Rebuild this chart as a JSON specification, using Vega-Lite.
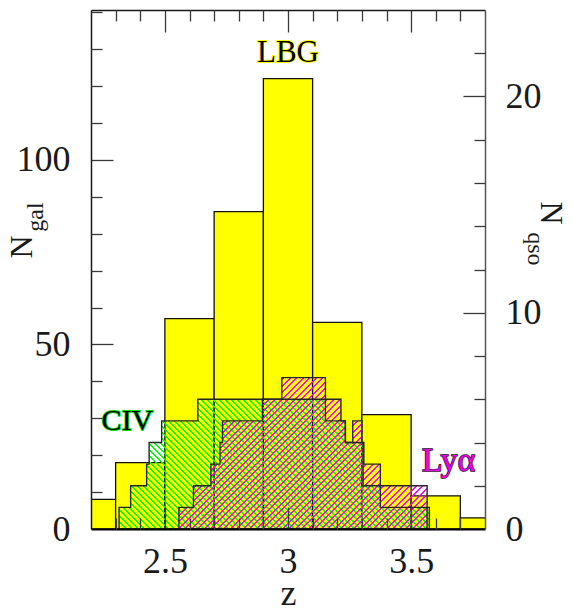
{
  "$schema": "https://vega.github.io/schema/vega-lite/v6.json",
  "width": 394,
  "height": 519,
  "autosize": {"type": "none"},
  "padding": {"left": 91, "top": 10, "right": 87, "bottom": 81},
  "background": "white",
  "config": {
    "view": {"stroke": null},
    "axis": {"grid": false, "labelFont": "Liberation Serif", "titleFont": "Liberation Serif"},
    "text": {"font": "Liberation Serif"}
  },
  "datasets": {
    "lbg": [
      {"z0": 2.1, "z1": 2.3, "n": 8},
      {"z0": 2.3, "z1": 2.5, "n": 18},
      {"z0": 2.5, "z1": 2.7, "n": 57},
      {"z0": 2.7, "z1": 2.9, "n": 86},
      {"z0": 2.9, "z1": 3.1, "n": 122},
      {"z0": 3.1, "z1": 3.3, "n": 56},
      {"z0": 3.3, "z1": 3.5, "n": 31},
      {"z0": 3.5, "z1": 3.7, "n": 9},
      {"z0": 3.7, "z1": 3.9, "n": 3}
    ],
    "civ": [
      {"z": 2.314, "n": 1}, {"z": 2.361, "n": 2}, {"z": 2.426, "n": 3}, {"z": 2.436, "n": 4},
      {"z": 2.487, "n": 5}, {"z": 2.634, "n": 6}, {"z": 3.152, "n": 5}, {"z": 3.233, "n": 4},
      {"z": 3.305, "n": 2}, {"z": 3.375, "n": 1}, {"z": 3.574, "n": 0}
    ],
    "lya": [
      {"z": 2.557, "n": 1}, {"z": 2.616, "n": 2}, {"z": 2.687, "n": 3}, {"z": 2.724, "n": 4},
      {"z": 2.734, "n": 5}, {"z": 2.896, "n": 6}, {"z": 2.975, "n": 7}, {"z": 3.152, "n": 6},
      {"z": 3.215, "n": 5}, {"z": 3.233, "n": 4}, {"z": 3.263, "n": 5}, {"z": 3.3, "n": 4},
      {"z": 3.308, "n": 3}, {"z": 3.375, "n": 2}, {"z": 3.565, "n": 0}
    ],
    "gal_text": [
      {"label": "LBG", "z": 3.0, "n": 129},
      {"label": "N", "z": 1.92, "n": 76.4},
      {"label": "gal", "z": 1.977, "n": 84.5}
    ],
    "qso_text": [
      {"label": "CIV", "z": 2.348, "n": 5.0},
      {"label": "Lyα", "z": 3.652, "n": 3.14},
      {"label": "N", "z": 4.07, "n": 14.61},
      {"label": "qso", "z": 4.003, "n": 12.95}
    ]
  },
  "resolve": {
    "scale": {"x": "independent", "y": "independent"},
    "axis": {"x": "independent", "y": "independent"}
  },
  "layer": [
    {
      "data": {"name": "lbg"},
      "mark": {"type": "rect", "fill": "#ffff00", "stroke": "#111111", "strokeWidth": 1.3, "clip": true},
      "encoding": {
        "x": {"field": "z0", "type": "quantitative", "scale": {"domain": [2.2, 3.8], "nice": false, "zero": false},
          "axis": {"orient": "bottom", "values": [2.5, 3, 3.5], "format": "~g", "ticks": false, "domain": false,
            "labelFontSize": 36, "labelColor": "#1a1a1a", "labelPadding": 15, "labelFlush": false, "labelOverlap": false,
            "title": "z", "titleFontSize": 36, "titleFontWeight": "normal", "titleColor": "#1a1a1a", "titleY": 75, "titleBaseline": "alphabetic"}},
        "x2": {"field": "z1"},
        "y": {"field": "n", "type": "quantitative", "scale": {"domain": [0, 140.6], "nice": false, "zero": false},
          "axis": {"orient": "left", "values": [0, 50, 100], "format": "d", "ticks": false, "domain": false,
            "labelFontSize": 36, "labelColor": "#1a1a1a", "labelPadding": 21, "labelOverlap": false, "title": null}},
        "y2": {"datum": 0}
      }
    },
    {
      "data": {"name": "civ"},
      "mark": {"type": "area", "interpolate": "step-after", "clip": true,
        "fill": {"gradient": "linear", "x1": 0, "y1": 1, "x2": 1.3168, "y2": 0.4493, "stops": [
{"offset":0,"color":"lime"},{"offset":0.0045,"color":"lime"},{"offset":0.0045,"color":"transparent"},{"offset":0.0125,"color":"transparent"},
{"offset":0.0125,"color":"lime"},{"offset":0.017,"color":"lime"},{"offset":0.017,"color":"transparent"},{"offset":0.025,"color":"transparent"},
{"offset":0.025,"color":"lime"},{"offset":0.0295,"color":"lime"},{"offset":0.0295,"color":"transparent"},{"offset":0.0375,"color":"transparent"},
{"offset":0.0375,"color":"lime"},{"offset":0.042,"color":"lime"},{"offset":0.042,"color":"transparent"},{"offset":0.05,"color":"transparent"},
{"offset":0.05,"color":"lime"},{"offset":0.0545,"color":"lime"},{"offset":0.0545,"color":"transparent"},{"offset":0.0625,"color":"transparent"},
{"offset":0.0625,"color":"lime"},{"offset":0.067,"color":"lime"},{"offset":0.067,"color":"transparent"},{"offset":0.075,"color":"transparent"},
{"offset":0.075,"color":"lime"},{"offset":0.0795,"color":"lime"},{"offset":0.0795,"color":"transparent"},{"offset":0.0875,"color":"transparent"},
{"offset":0.0875,"color":"lime"},{"offset":0.092,"color":"lime"},{"offset":0.092,"color":"transparent"},{"offset":0.1,"color":"transparent"},
{"offset":0.1,"color":"lime"},{"offset":0.1045,"color":"lime"},{"offset":0.1045,"color":"transparent"},{"offset":0.1125,"color":"transparent"},
{"offset":0.1125,"color":"lime"},{"offset":0.117,"color":"lime"},{"offset":0.117,"color":"transparent"},{"offset":0.125,"color":"transparent"},
{"offset":0.125,"color":"lime"},{"offset":0.1295,"color":"lime"},{"offset":0.1295,"color":"transparent"},{"offset":0.1375,"color":"transparent"},
{"offset":0.1375,"color":"lime"},{"offset":0.142,"color":"lime"},{"offset":0.142,"color":"transparent"},{"offset":0.15,"color":"transparent"},
{"offset":0.15,"color":"lime"},{"offset":0.1545,"color":"lime"},{"offset":0.1545,"color":"transparent"},{"offset":0.1625,"color":"transparent"},
{"offset":0.1625,"color":"lime"},{"offset":0.167,"color":"lime"},{"offset":0.167,"color":"transparent"},{"offset":0.175,"color":"transparent"},
{"offset":0.175,"color":"lime"},{"offset":0.1795,"color":"lime"},{"offset":0.1795,"color":"transparent"},{"offset":0.1875,"color":"transparent"},
{"offset":0.1875,"color":"lime"},{"offset":0.192,"color":"lime"},{"offset":0.192,"color":"transparent"},{"offset":0.2,"color":"transparent"},
{"offset":0.2,"color":"lime"},{"offset":0.2045,"color":"lime"},{"offset":0.2045,"color":"transparent"},{"offset":0.2125,"color":"transparent"},
{"offset":0.2125,"color":"lime"},{"offset":0.217,"color":"lime"},{"offset":0.217,"color":"transparent"},{"offset":0.225,"color":"transparent"},
{"offset":0.225,"color":"lime"},{"offset":0.2295,"color":"lime"},{"offset":0.2295,"color":"transparent"},{"offset":0.2375,"color":"transparent"},
{"offset":0.2375,"color":"lime"},{"offset":0.242,"color":"lime"},{"offset":0.242,"color":"transparent"},{"offset":0.25,"color":"transparent"},
{"offset":0.25,"color":"lime"},{"offset":0.2545,"color":"lime"},{"offset":0.2545,"color":"transparent"},{"offset":0.2625,"color":"transparent"},
{"offset":0.2625,"color":"lime"},{"offset":0.267,"color":"lime"},{"offset":0.267,"color":"transparent"},{"offset":0.275,"color":"transparent"},
{"offset":0.275,"color":"lime"},{"offset":0.2795,"color":"lime"},{"offset":0.2795,"color":"transparent"},{"offset":0.2875,"color":"transparent"},
{"offset":0.2875,"color":"lime"},{"offset":0.292,"color":"lime"},{"offset":0.292,"color":"transparent"},{"offset":0.3,"color":"transparent"},
{"offset":0.3,"color":"lime"},{"offset":0.3045,"color":"lime"},{"offset":0.3045,"color":"transparent"},{"offset":0.3125,"color":"transparent"},
{"offset":0.3125,"color":"lime"},{"offset":0.317,"color":"lime"},{"offset":0.317,"color":"transparent"},{"offset":0.325,"color":"transparent"},
{"offset":0.325,"color":"lime"},{"offset":0.3295,"color":"lime"},{"offset":0.3295,"color":"transparent"},{"offset":0.3375,"color":"transparent"},
{"offset":0.3375,"color":"lime"},{"offset":0.342,"color":"lime"},{"offset":0.342,"color":"transparent"},{"offset":0.35,"color":"transparent"},
{"offset":0.35,"color":"lime"},{"offset":0.3545,"color":"lime"},{"offset":0.3545,"color":"transparent"},{"offset":0.3625,"color":"transparent"},
{"offset":0.3625,"color":"lime"},{"offset":0.367,"color":"lime"},{"offset":0.367,"color":"transparent"},{"offset":0.375,"color":"transparent"},
{"offset":0.375,"color":"lime"},{"offset":0.3795,"color":"lime"},{"offset":0.3795,"color":"transparent"},{"offset":0.3875,"color":"transparent"},
{"offset":0.3875,"color":"lime"},{"offset":0.392,"color":"lime"},{"offset":0.392,"color":"transparent"},{"offset":0.4,"color":"transparent"},
{"offset":0.4,"color":"lime"},{"offset":0.4045,"color":"lime"},{"offset":0.4045,"color":"transparent"},{"offset":0.4125,"color":"transparent"},
{"offset":0.4125,"color":"lime"},{"offset":0.417,"color":"lime"},{"offset":0.417,"color":"transparent"},{"offset":0.425,"color":"transparent"},
{"offset":0.425,"color":"lime"},{"offset":0.4295,"color":"lime"},{"offset":0.4295,"color":"transparent"},{"offset":0.4375,"color":"transparent"},
{"offset":0.4375,"color":"lime"},{"offset":0.442,"color":"lime"},{"offset":0.442,"color":"transparent"},{"offset":0.45,"color":"transparent"},
{"offset":0.45,"color":"lime"},{"offset":0.4545,"color":"lime"},{"offset":0.4545,"color":"transparent"},{"offset":0.4625,"color":"transparent"},
{"offset":0.4625,"color":"lime"},{"offset":0.467,"color":"lime"},{"offset":0.467,"color":"transparent"},{"offset":0.475,"color":"transparent"},
{"offset":0.475,"color":"lime"},{"offset":0.4795,"color":"lime"},{"offset":0.4795,"color":"transparent"},{"offset":0.4875,"color":"transparent"},
{"offset":0.4875,"color":"lime"},{"offset":0.492,"color":"lime"},{"offset":0.492,"color":"transparent"},{"offset":0.5,"color":"transparent"},
{"offset":0.5,"color":"lime"},{"offset":0.5045,"color":"lime"},{"offset":0.5045,"color":"transparent"},{"offset":0.5125,"color":"transparent"},
{"offset":0.5125,"color":"lime"},{"offset":0.517,"color":"lime"},{"offset":0.517,"color":"transparent"},{"offset":0.525,"color":"transparent"},
{"offset":0.525,"color":"lime"},{"offset":0.5295,"color":"lime"},{"offset":0.5295,"color":"transparent"},{"offset":0.5375,"color":"transparent"},
{"offset":0.5375,"color":"lime"},{"offset":0.542,"color":"lime"},{"offset":0.542,"color":"transparent"},{"offset":0.55,"color":"transparent"},
{"offset":0.55,"color":"lime"},{"offset":0.5545,"color":"lime"},{"offset":0.5545,"color":"transparent"},{"offset":0.5625,"color":"transparent"},
{"offset":0.5625,"color":"lime"},{"offset":0.567,"color":"lime"},{"offset":0.567,"color":"transparent"},{"offset":0.575,"color":"transparent"},
{"offset":0.575,"color":"lime"},{"offset":0.5795,"color":"lime"},{"offset":0.5795,"color":"transparent"},{"offset":0.5875,"color":"transparent"},
{"offset":0.5875,"color":"lime"},{"offset":0.592,"color":"lime"},{"offset":0.592,"color":"transparent"},{"offset":0.6,"color":"transparent"},
{"offset":0.6,"color":"lime"},{"offset":0.6045,"color":"lime"},{"offset":0.6045,"color":"transparent"},{"offset":0.6125,"color":"transparent"},
{"offset":0.6125,"color":"lime"},{"offset":0.617,"color":"lime"},{"offset":0.617,"color":"transparent"},{"offset":0.625,"color":"transparent"},
{"offset":0.625,"color":"lime"},{"offset":0.6295,"color":"lime"},{"offset":0.6295,"color":"transparent"},{"offset":0.6375,"color":"transparent"},
{"offset":0.6375,"color":"lime"},{"offset":0.642,"color":"lime"},{"offset":0.642,"color":"transparent"},{"offset":0.65,"color":"transparent"},
{"offset":0.65,"color":"lime"},{"offset":0.6545,"color":"lime"},{"offset":0.6545,"color":"transparent"},{"offset":0.6625,"color":"transparent"},
{"offset":0.6625,"color":"lime"},{"offset":0.667,"color":"lime"},{"offset":0.667,"color":"transparent"},{"offset":0.675,"color":"transparent"},
{"offset":0.675,"color":"lime"},{"offset":0.6795,"color":"lime"},{"offset":0.6795,"color":"transparent"},{"offset":0.6875,"color":"transparent"},
{"offset":0.6875,"color":"lime"},{"offset":0.692,"color":"lime"},{"offset":0.692,"color":"transparent"},{"offset":0.7,"color":"transparent"},
{"offset":0.7,"color":"lime"},{"offset":0.7045,"color":"lime"},{"offset":0.7045,"color":"transparent"},{"offset":0.7125,"color":"transparent"},
{"offset":0.7125,"color":"lime"},{"offset":0.717,"color":"lime"},{"offset":0.717,"color":"transparent"},{"offset":0.725,"color":"transparent"},
{"offset":0.725,"color":"lime"},{"offset":0.7295,"color":"lime"},{"offset":0.7295,"color":"transparent"},{"offset":0.7375,"color":"transparent"},
{"offset":0.7375,"color":"lime"},{"offset":0.742,"color":"lime"},{"offset":0.742,"color":"transparent"},{"offset":0.75,"color":"transparent"},
{"offset":0.75,"color":"lime"},{"offset":0.7545,"color":"lime"},{"offset":0.7545,"color":"transparent"},{"offset":0.7625,"color":"transparent"},
{"offset":0.7625,"color":"lime"},{"offset":0.767,"color":"lime"},{"offset":0.767,"color":"transparent"},{"offset":0.775,"color":"transparent"},
{"offset":0.775,"color":"lime"},{"offset":0.7795,"color":"lime"},{"offset":0.7795,"color":"transparent"},{"offset":0.7875,"color":"transparent"},
{"offset":0.7875,"color":"lime"},{"offset":0.792,"color":"lime"},{"offset":0.792,"color":"transparent"},{"offset":0.8,"color":"transparent"},
{"offset":0.8,"color":"lime"},{"offset":0.8045,"color":"lime"},{"offset":0.8045,"color":"transparent"},{"offset":0.8125,"color":"transparent"},
{"offset":0.8125,"color":"lime"},{"offset":0.817,"color":"lime"},{"offset":0.817,"color":"transparent"},{"offset":0.825,"color":"transparent"},
{"offset":0.825,"color":"lime"},{"offset":0.8295,"color":"lime"},{"offset":0.8295,"color":"transparent"},{"offset":0.8375,"color":"transparent"},
{"offset":0.8375,"color":"lime"},{"offset":0.842,"color":"lime"},{"offset":0.842,"color":"transparent"},{"offset":0.85,"color":"transparent"},
{"offset":0.85,"color":"lime"},{"offset":0.8545,"color":"lime"},{"offset":0.8545,"color":"transparent"},{"offset":0.8625,"color":"transparent"},
{"offset":0.8625,"color":"lime"},{"offset":0.867,"color":"lime"},{"offset":0.867,"color":"transparent"},{"offset":0.875,"color":"transparent"},
{"offset":0.875,"color":"lime"},{"offset":0.8795,"color":"lime"},{"offset":0.8795,"color":"transparent"},{"offset":0.8875,"color":"transparent"},
{"offset":0.8875,"color":"lime"},{"offset":0.892,"color":"lime"},{"offset":0.892,"color":"transparent"},{"offset":0.9,"color":"transparent"},
{"offset":0.9,"color":"lime"},{"offset":0.9045,"color":"lime"},{"offset":0.9045,"color":"transparent"},{"offset":0.9125,"color":"transparent"},
{"offset":0.9125,"color":"lime"},{"offset":0.917,"color":"lime"},{"offset":0.917,"color":"transparent"},{"offset":0.925,"color":"transparent"}
        ]}},
      "encoding": {
        "x": {"field": "z", "type": "quantitative", "scale": {"domain": [2.2, 3.8], "nice": false, "zero": false},
          "axis": {"orient": "bottom", "values": [2.5, 3, 3.5], "labels": false, "tickSize": -22, "tickColor": "#3a3a3a", "tickWidth": 1.3,
            "domain": true, "domainColor": "#000000", "domainWidth": 2.2, "title": null, "zindex": 2}},
        "y": {"field": "n", "type": "quantitative", "stack": null, "scale": {"domain": [0, 24], "nice": false, "zero": false},
          "axis": {"orient": "right", "values": [0, 10, 20], "format": "d", "ticks": false, "domain": false,
            "labelFontSize": 36, "labelColor": "#1a1a1a", "labelPadding": 20, "labelOverlap": false, "title": null}}
      }
    },
    {
      "data": {"name": "lya"},
      "mark": {"type": "area", "interpolate": "step-after", "clip": true,
        "fill": {"gradient": "linear", "x1": 0, "y1": 0, "x2": 1.527, "y2": 0.9313, "stops": [
{"offset":0,"color":"magenta"},{"offset":0.0045,"color":"magenta"},{"offset":0.0045,"color":"transparent"},{"offset":0.0125,"color":"transparent"},
{"offset":0.0125,"color":"magenta"},{"offset":0.017,"color":"magenta"},{"offset":0.017,"color":"transparent"},{"offset":0.025,"color":"transparent"},
{"offset":0.025,"color":"magenta"},{"offset":0.0295,"color":"magenta"},{"offset":0.0295,"color":"transparent"},{"offset":0.0375,"color":"transparent"},
{"offset":0.0375,"color":"magenta"},{"offset":0.042,"color":"magenta"},{"offset":0.042,"color":"transparent"},{"offset":0.05,"color":"transparent"},
{"offset":0.05,"color":"magenta"},{"offset":0.0545,"color":"magenta"},{"offset":0.0545,"color":"transparent"},{"offset":0.0625,"color":"transparent"},
{"offset":0.0625,"color":"magenta"},{"offset":0.067,"color":"magenta"},{"offset":0.067,"color":"transparent"},{"offset":0.075,"color":"transparent"},
{"offset":0.075,"color":"magenta"},{"offset":0.0795,"color":"magenta"},{"offset":0.0795,"color":"transparent"},{"offset":0.0875,"color":"transparent"},
{"offset":0.0875,"color":"magenta"},{"offset":0.092,"color":"magenta"},{"offset":0.092,"color":"transparent"},{"offset":0.1,"color":"transparent"},
{"offset":0.1,"color":"magenta"},{"offset":0.1045,"color":"magenta"},{"offset":0.1045,"color":"transparent"},{"offset":0.1125,"color":"transparent"},
{"offset":0.1125,"color":"magenta"},{"offset":0.117,"color":"magenta"},{"offset":0.117,"color":"transparent"},{"offset":0.125,"color":"transparent"},
{"offset":0.125,"color":"magenta"},{"offset":0.1295,"color":"magenta"},{"offset":0.1295,"color":"transparent"},{"offset":0.1375,"color":"transparent"},
{"offset":0.1375,"color":"magenta"},{"offset":0.142,"color":"magenta"},{"offset":0.142,"color":"transparent"},{"offset":0.15,"color":"transparent"},
{"offset":0.15,"color":"magenta"},{"offset":0.1545,"color":"magenta"},{"offset":0.1545,"color":"transparent"},{"offset":0.1625,"color":"transparent"},
{"offset":0.1625,"color":"magenta"},{"offset":0.167,"color":"magenta"},{"offset":0.167,"color":"transparent"},{"offset":0.175,"color":"transparent"},
{"offset":0.175,"color":"magenta"},{"offset":0.1795,"color":"magenta"},{"offset":0.1795,"color":"transparent"},{"offset":0.1875,"color":"transparent"},
{"offset":0.1875,"color":"magenta"},{"offset":0.192,"color":"magenta"},{"offset":0.192,"color":"transparent"},{"offset":0.2,"color":"transparent"},
{"offset":0.2,"color":"magenta"},{"offset":0.2045,"color":"magenta"},{"offset":0.2045,"color":"transparent"},{"offset":0.2125,"color":"transparent"},
{"offset":0.2125,"color":"magenta"},{"offset":0.217,"color":"magenta"},{"offset":0.217,"color":"transparent"},{"offset":0.225,"color":"transparent"},
{"offset":0.225,"color":"magenta"},{"offset":0.2295,"color":"magenta"},{"offset":0.2295,"color":"transparent"},{"offset":0.2375,"color":"transparent"},
{"offset":0.2375,"color":"magenta"},{"offset":0.242,"color":"magenta"},{"offset":0.242,"color":"transparent"},{"offset":0.25,"color":"transparent"},
{"offset":0.25,"color":"magenta"},{"offset":0.2545,"color":"magenta"},{"offset":0.2545,"color":"transparent"},{"offset":0.2625,"color":"transparent"},
{"offset":0.2625,"color":"magenta"},{"offset":0.267,"color":"magenta"},{"offset":0.267,"color":"transparent"},{"offset":0.275,"color":"transparent"},
{"offset":0.275,"color":"magenta"},{"offset":0.2795,"color":"magenta"},{"offset":0.2795,"color":"transparent"},{"offset":0.2875,"color":"transparent"},
{"offset":0.2875,"color":"magenta"},{"offset":0.292,"color":"magenta"},{"offset":0.292,"color":"transparent"},{"offset":0.3,"color":"transparent"},
{"offset":0.3,"color":"magenta"},{"offset":0.3045,"color":"magenta"},{"offset":0.3045,"color":"transparent"},{"offset":0.3125,"color":"transparent"},
{"offset":0.3125,"color":"magenta"},{"offset":0.317,"color":"magenta"},{"offset":0.317,"color":"transparent"},{"offset":0.325,"color":"transparent"},
{"offset":0.325,"color":"magenta"},{"offset":0.3295,"color":"magenta"},{"offset":0.3295,"color":"transparent"},{"offset":0.3375,"color":"transparent"},
{"offset":0.3375,"color":"magenta"},{"offset":0.342,"color":"magenta"},{"offset":0.342,"color":"transparent"},{"offset":0.35,"color":"transparent"},
{"offset":0.35,"color":"magenta"},{"offset":0.3545,"color":"magenta"},{"offset":0.3545,"color":"transparent"},{"offset":0.3625,"color":"transparent"},
{"offset":0.3625,"color":"magenta"},{"offset":0.367,"color":"magenta"},{"offset":0.367,"color":"transparent"},{"offset":0.375,"color":"transparent"},
{"offset":0.375,"color":"magenta"},{"offset":0.3795,"color":"magenta"},{"offset":0.3795,"color":"transparent"},{"offset":0.3875,"color":"transparent"},
{"offset":0.3875,"color":"magenta"},{"offset":0.392,"color":"magenta"},{"offset":0.392,"color":"transparent"},{"offset":0.4,"color":"transparent"},
{"offset":0.4,"color":"magenta"},{"offset":0.4045,"color":"magenta"},{"offset":0.4045,"color":"transparent"},{"offset":0.4125,"color":"transparent"},
{"offset":0.4125,"color":"magenta"},{"offset":0.417,"color":"magenta"},{"offset":0.417,"color":"transparent"},{"offset":0.425,"color":"transparent"},
{"offset":0.425,"color":"magenta"},{"offset":0.4295,"color":"magenta"},{"offset":0.4295,"color":"transparent"},{"offset":0.4375,"color":"transparent"},
{"offset":0.4375,"color":"magenta"},{"offset":0.442,"color":"magenta"},{"offset":0.442,"color":"transparent"},{"offset":0.45,"color":"transparent"},
{"offset":0.45,"color":"magenta"},{"offset":0.4545,"color":"magenta"},{"offset":0.4545,"color":"transparent"},{"offset":0.4625,"color":"transparent"},
{"offset":0.4625,"color":"magenta"},{"offset":0.467,"color":"magenta"},{"offset":0.467,"color":"transparent"},{"offset":0.475,"color":"transparent"},
{"offset":0.475,"color":"magenta"},{"offset":0.4795,"color":"magenta"},{"offset":0.4795,"color":"transparent"},{"offset":0.4875,"color":"transparent"},
{"offset":0.4875,"color":"magenta"},{"offset":0.492,"color":"magenta"},{"offset":0.492,"color":"transparent"},{"offset":0.5,"color":"transparent"},
{"offset":0.5,"color":"magenta"},{"offset":0.5045,"color":"magenta"},{"offset":0.5045,"color":"transparent"},{"offset":0.5125,"color":"transparent"},
{"offset":0.5125,"color":"magenta"},{"offset":0.517,"color":"magenta"},{"offset":0.517,"color":"transparent"},{"offset":0.525,"color":"transparent"},
{"offset":0.525,"color":"magenta"},{"offset":0.5295,"color":"magenta"},{"offset":0.5295,"color":"transparent"},{"offset":0.5375,"color":"transparent"},
{"offset":0.5375,"color":"magenta"},{"offset":0.542,"color":"magenta"},{"offset":0.542,"color":"transparent"},{"offset":0.55,"color":"transparent"},
{"offset":0.55,"color":"magenta"},{"offset":0.5545,"color":"magenta"},{"offset":0.5545,"color":"transparent"},{"offset":0.5625,"color":"transparent"},
{"offset":0.5625,"color":"magenta"},{"offset":0.567,"color":"magenta"},{"offset":0.567,"color":"transparent"},{"offset":0.575,"color":"transparent"},
{"offset":0.575,"color":"magenta"},{"offset":0.5795,"color":"magenta"},{"offset":0.5795,"color":"transparent"},{"offset":0.5875,"color":"transparent"},
{"offset":0.5875,"color":"magenta"},{"offset":0.592,"color":"magenta"},{"offset":0.592,"color":"transparent"},{"offset":0.6,"color":"transparent"},
{"offset":0.6,"color":"magenta"},{"offset":0.6045,"color":"magenta"},{"offset":0.6045,"color":"transparent"},{"offset":0.6125,"color":"transparent"},
{"offset":0.6125,"color":"magenta"},{"offset":0.617,"color":"magenta"},{"offset":0.617,"color":"transparent"},{"offset":0.625,"color":"transparent"},
{"offset":0.625,"color":"magenta"},{"offset":0.6295,"color":"magenta"},{"offset":0.6295,"color":"transparent"},{"offset":0.6375,"color":"transparent"},
{"offset":0.6375,"color":"magenta"},{"offset":0.642,"color":"magenta"},{"offset":0.642,"color":"transparent"},{"offset":0.65,"color":"transparent"},
{"offset":0.65,"color":"magenta"},{"offset":0.6545,"color":"magenta"},{"offset":0.6545,"color":"transparent"},{"offset":0.6625,"color":"transparent"},
{"offset":0.6625,"color":"magenta"},{"offset":0.667,"color":"magenta"},{"offset":0.667,"color":"transparent"},{"offset":0.675,"color":"transparent"},
{"offset":0.675,"color":"magenta"},{"offset":0.6795,"color":"magenta"},{"offset":0.6795,"color":"transparent"},{"offset":0.6875,"color":"transparent"},
{"offset":0.6875,"color":"magenta"},{"offset":0.692,"color":"magenta"},{"offset":0.692,"color":"transparent"},{"offset":0.7,"color":"transparent"},
{"offset":0.7,"color":"magenta"},{"offset":0.7045,"color":"magenta"},{"offset":0.7045,"color":"transparent"},{"offset":0.7125,"color":"transparent"},
{"offset":0.7125,"color":"magenta"},{"offset":0.717,"color":"magenta"},{"offset":0.717,"color":"transparent"},{"offset":0.725,"color":"transparent"},
{"offset":0.725,"color":"magenta"},{"offset":0.7295,"color":"magenta"},{"offset":0.7295,"color":"transparent"},{"offset":0.7375,"color":"transparent"},
{"offset":0.7375,"color":"magenta"},{"offset":0.742,"color":"magenta"},{"offset":0.742,"color":"transparent"},{"offset":0.75,"color":"transparent"},
{"offset":0.75,"color":"magenta"},{"offset":0.7545,"color":"magenta"},{"offset":0.7545,"color":"transparent"},{"offset":0.7625,"color":"transparent"},
{"offset":0.7625,"color":"magenta"},{"offset":0.767,"color":"magenta"},{"offset":0.767,"color":"transparent"},{"offset":0.775,"color":"transparent"}
        ]}},
      "encoding": {
        "x": {"field": "z", "type": "quantitative", "scale": {"domain": [2.2, 3.8], "nice": false, "zero": false},
          "axis": {"orient": "bottom", "values": [2.3, 2.4, 2.6, 2.7, 2.8, 2.9, 3.1, 3.2, 3.3, 3.4, 3.6, 3.7], "labels": false,
            "tickSize": -11, "tickColor": "#3a3a3a", "tickWidth": 1.3, "domain": false, "title": null, "zindex": 2}},
        "y": {"field": "n", "type": "quantitative", "stack": null, "scale": {"domain": [0, 24], "nice": false, "zero": false},
          "axis": {"orient": "right", "values": [10, 20], "labels": false, "tickSize": -22, "tickColor": "#3a3a3a", "tickWidth": 1.3,
            "domain": true, "domainColor": "#555555", "domainWidth": 1.5, "title": null, "zindex": 2}}
      }
    },
    {
      "data": {"name": "civ"},
      "mark": {"type": "area", "interpolate": "step-after", "fill": "transparent", "stroke": "#262626", "strokeWidth": 1.4},
      "encoding": {
        "x": {"field": "z", "type": "quantitative", "scale": {"domain": [2.2, 3.8], "nice": false, "zero": false},
          "axis": {"orient": "top", "values": [2.5, 3, 3.5], "labels": false, "tickSize": -22, "tickColor": "#3a3a3a", "tickWidth": 1.3,
            "domain": true, "domainColor": "#1a1a1a", "domainWidth": 1.5, "title": null, "zindex": 2}},
        "y": {"field": "n", "type": "quantitative", "stack": null, "scale": {"domain": [0, 24], "nice": false, "zero": false},
          "axis": {"orient": "right", "values": [2, 4, 6, 8, 12, 14, 16, 18, 22], "labels": false, "tickSize": -11, "tickColor": "#3a3a3a",
            "tickWidth": 1.3, "domain": false, "title": null, "zindex": 2}}
      }
    },
    {
      "data": {"name": "lya"},
      "mark": {"type": "area", "interpolate": "step-after", "fill": "transparent", "stroke": "#262626", "strokeWidth": 1.4},
      "encoding": {
        "x": {"field": "z", "type": "quantitative", "scale": {"domain": [2.2, 3.8], "nice": false, "zero": false},
          "axis": {"orient": "top", "values": [2.3, 2.4, 2.6, 2.7, 2.8, 2.9, 3.1, 3.2, 3.3, 3.4, 3.6, 3.7], "labels": false,
            "tickSize": -11, "tickColor": "#3a3a3a", "tickWidth": 1.3, "domain": false, "title": null, "zindex": 2}},
        "y": {"field": "n", "type": "quantitative", "stack": null, "scale": {"domain": [0, 24], "nice": false, "zero": false}, "axis": null}
      }
    },
    {
      "data": {"name": "gal_text"},
      "transform": [{"filter": "datum.label === 'LBG'"}],
      "mark": {"type": "text", "fontSize": 31, "align": "center", "baseline": "middle", "fill": "#ffff00", "stroke": "#ffff00", "strokeWidth": 1.8},
      "encoding": {
        "x": {"field": "z", "type": "quantitative", "scale": {"domain": [2.2, 3.8], "nice": false, "zero": false}, "axis": null},
        "y": {"field": "n", "type": "quantitative", "scale": {"domain": [0, 140.6], "nice": false, "zero": false},
          "axis": {"orient": "left", "values": [50, 100], "labels": false, "tickSize": -22, "tickColor": "#3a3a3a", "tickWidth": 1.3,
            "domain": true, "domainColor": "#1a1a1a", "domainWidth": 1.5, "title": null, "zindex": 2}},
        "text": {"field": "label"}
      }
    },
    {
      "data": {"name": "gal_text"},
      "transform": [{"filter": "datum.label === 'LBG'"}],
      "mark": {"type": "text", "fontSize": 31, "align": "center", "baseline": "middle", "fill": "#000000"},
      "encoding": {
        "x": {"field": "z", "type": "quantitative", "scale": {"domain": [2.2, 3.8], "nice": false, "zero": false}, "axis": null},
        "y": {"field": "n", "type": "quantitative", "scale": {"domain": [0, 140.6], "nice": false, "zero": false},
          "axis": {"orient": "left", "values": [10, 20, 30, 40, 60, 70, 80, 90, 110, 120, 130, 140], "labels": false, "tickSize": -11,
            "tickColor": "#3a3a3a", "tickWidth": 1.3, "domain": false, "title": null, "zindex": 2}},
        "text": {"field": "label"}
      }
    },
    {
      "data": {"name": "gal_text"},
      "transform": [{"filter": "datum.label === 'N'"}],
      "mark": {"type": "text", "fontSize": 32, "angle": 270, "align": "center", "baseline": "middle", "fill": "#1a1a1a"},
      "encoding": {
        "x": {"field": "z", "type": "quantitative", "scale": {"domain": [2.2, 3.8], "nice": false, "zero": false}, "axis": null},
        "y": {"field": "n", "type": "quantitative", "scale": {"domain": [0, 140.6], "nice": false, "zero": false}, "axis": null},
        "text": {"field": "label"}
      }
    },
    {
      "data": {"name": "gal_text"},
      "transform": [{"filter": "datum.label === 'gal'"}],
      "mark": {"type": "text", "fontSize": 24, "angle": 270, "align": "center", "baseline": "middle", "fill": "#1a1a1a"},
      "encoding": {
        "x": {"field": "z", "type": "quantitative", "scale": {"domain": [2.2, 3.8], "nice": false, "zero": false}, "axis": null},
        "y": {"field": "n", "type": "quantitative", "scale": {"domain": [0, 140.6], "nice": false, "zero": false}, "axis": null},
        "text": {"field": "label"}
      }
    },
    {
      "data": {"name": "qso_text"},
      "transform": [{"filter": "datum.label === 'CIV'"}],
      "mark": {"type": "text", "fontSize": 30, "align": "center", "baseline": "middle", "fill": "#00e000", "stroke": "#00e000", "strokeWidth": 1.8},
      "encoding": {
        "x": {"field": "z", "type": "quantitative", "scale": {"domain": [2.2, 3.8], "nice": false, "zero": false}, "axis": null},
        "y": {"field": "n", "type": "quantitative", "scale": {"domain": [0, 24], "nice": false, "zero": false}, "axis": null},
        "text": {"field": "label"}
      }
    },
    {
      "data": {"name": "qso_text"},
      "transform": [{"filter": "datum.label === 'CIV'"}],
      "mark": {"type": "text", "fontSize": 30, "align": "center", "baseline": "middle", "fill": "#000000"},
      "encoding": {
        "x": {"field": "z", "type": "quantitative", "scale": {"domain": [2.2, 3.8], "nice": false, "zero": false}, "axis": null},
        "y": {"field": "n", "type": "quantitative", "scale": {"domain": [0, 24], "nice": false, "zero": false}, "axis": null},
        "text": {"field": "label"}
      }
    },
    {
      "data": {"name": "qso_text"},
      "transform": [{"filter": "datum.label === 'Lyα'"}],
      "mark": {"type": "text", "fontSize": 34, "align": "center", "baseline": "middle", "fill": "#202020", "stroke": "#202020", "strokeWidth": 1.4},
      "encoding": {
        "x": {"field": "z", "type": "quantitative", "scale": {"domain": [2.2, 3.8], "nice": false, "zero": false}, "axis": null},
        "y": {"field": "n", "type": "quantitative", "scale": {"domain": [0, 24], "nice": false, "zero": false}, "axis": null},
        "text": {"field": "label"}
      }
    },
    {
      "data": {"name": "qso_text"},
      "transform": [{"filter": "datum.label === 'Lyα'"}],
      "mark": {"type": "text", "fontSize": 34, "align": "center", "baseline": "middle", "fill": "#ee00ee"},
      "encoding": {
        "x": {"field": "z", "type": "quantitative", "scale": {"domain": [2.2, 3.8], "nice": false, "zero": false}, "axis": null},
        "y": {"field": "n", "type": "quantitative", "scale": {"domain": [0, 24], "nice": false, "zero": false}, "axis": null},
        "text": {"field": "label"}
      }
    },
    {
      "data": {"name": "qso_text"},
      "transform": [{"filter": "datum.label === 'N'"}],
      "mark": {"type": "text", "fontSize": 32, "angle": 90, "align": "center", "baseline": "middle", "fill": "#1a1a1a"},
      "encoding": {
        "x": {"field": "z", "type": "quantitative", "scale": {"domain": [2.2, 3.8], "nice": false, "zero": false}, "axis": null},
        "y": {"field": "n", "type": "quantitative", "scale": {"domain": [0, 24], "nice": false, "zero": false}, "axis": null},
        "text": {"field": "label"}
      }
    },
    {
      "data": {"name": "qso_text"},
      "transform": [{"filter": "datum.label === 'qso'"}],
      "mark": {"type": "text", "fontSize": 24, "angle": 90, "align": "center", "baseline": "middle", "fill": "#1a1a1a"},
      "encoding": {
        "x": {"field": "z", "type": "quantitative", "scale": {"domain": [2.2, 3.8], "nice": false, "zero": false}, "axis": null},
        "y": {"field": "n", "type": "quantitative", "scale": {"domain": [0, 24], "nice": false, "zero": false}, "axis": null},
        "text": {"field": "label"}
      }
    }
  ]
}
